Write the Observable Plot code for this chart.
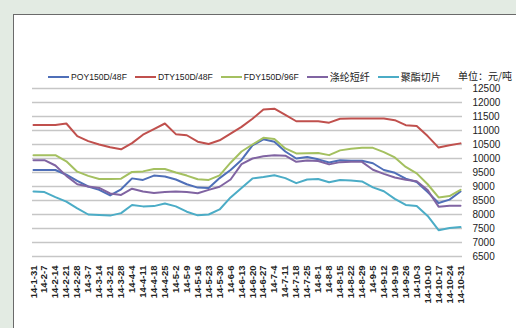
<!DOCTYPE html>
<html>
<head>
<meta charset="utf-8">
<script src="https://cdn.jsdelivr.net/npm/d3@7"></script>
<script src="https://cdn.jsdelivr.net/npm/@observablehq/plot@0.6"></script>
<style>
  html, body { margin: 0; padding: 0; }
  body { width: 516px; height: 328px; background: #e3ebe3; position: relative; overflow: hidden;
         font-family: "Liberation Sans", "Noto Sans CJK SC", sans-serif; }
  #panel { position: absolute; left: 13px; top: 14px; right: -2px; bottom: -2px; background: #fff;
           border-left: 1.5px solid #6a6a6a; border-top: 1.5px solid #6a6a6a; }
  #chart { position: absolute; left: 0; top: 0; }
  #legend { position: absolute; left: 48px; top: 69px; display: flex; align-items: center;
            font-size: 8.6px; color: #222; white-space: nowrap; }
  .item { display: flex; align-items: center; margin-right: 8px; }
  .swatch { width: 21px; height: 2px; margin-right: 2px; }
  .cjk { font-family: "Noto Sans CJK SC", sans-serif; font-size: 10px; }
  #unit { position: absolute; left: 458px; top: 68px; font-family: "Noto Sans CJK SC", sans-serif;
          font-size: 10px; color: #222; white-space: nowrap; }
</style>
</head>
<body>
<div id="panel"></div>
<div id="chart"></div>
<div id="legend"></div>
<div id="unit">单位：元/吨</div>
<script>
// Weekly category labels (year-month-day)
const dates = [
  "14-1-31","14-2-7","14-2-14","14-2-21","14-2-28","14-3-7","14-3-14","14-3-21","14-3-28","14-4-4",
  "14-4-11","14-4-18","14-4-25","14-5-2","14-5-9","14-5-16","14-5-23","14-5-30","14-6-6","14-6-13",
  "14-6-20","14-6-27","14-7-4","14-7-11","14-7-18","14-7-25","14-8-1","14-8-8","14-8-15","14-8-22",
  "14-8-29","14-9-5","14-9-12","14-9-19","14-9-26","14-10-3","14-10-10","14-10-17","14-10-24","14-10-31"
];

// Prices, yuan per tonne
const poy = [9590,9590,9590,9420,9200,9000,8880,8680,8900,9290,
             9235,9390,9360,9250,9080,8960,8950,9300,9590,9950,
             10470,10685,10600,10250,10000,10050,9970,9860,9940,9920,
             9920,9830,9590,9490,9280,9160,8800,8410,8530,8820];
const dty = [11200,11200,11200,11250,10800,10620,10500,10400,10330,10550,
             10850,11050,11250,10870,10830,10600,10520,10650,10890,11130,
             11420,11750,11780,11560,11330,11330,11330,11280,11420,11430,
             11430,11430,11430,11370,11190,11160,10800,10390,10470,10540];
const fdy = [10120,10120,10120,9900,9530,9380,9270,9270,9280,9520,
             9540,9625,9625,9500,9390,9260,9235,9400,9850,10250,
             10500,10740,10700,10360,10180,10190,10200,10120,10290,10350,
             10380,10380,10230,10040,9700,9470,9080,8610,8660,8880];
const psf = [9940,9940,9750,9380,9080,9000,8950,8750,8700,8920,
             8820,8770,8800,8820,8800,8760,8880,8990,9250,9800,
             10000,10080,10120,10100,9880,9930,9910,9790,9870,9880,
             9880,9600,9450,9320,9240,9190,8870,8280,8310,8310];
const chip = [8820,8800,8620,8460,8220,8000,7980,7960,8050,8340,
              8290,8300,8390,8290,8100,7970,8000,8180,8610,8950,
              9290,9340,9400,9300,9120,9250,9270,9150,9230,9210,
              9180,8970,8830,8560,8340,8300,7950,7440,7520,7550];

const seriesNames = ["POY150D/48F", "DTY150D/48F", "FDY150D/96F", "涤纶短纤", "聚酯切片"];
const seriesValues = [poy, dty, fdy, psf, chip];
const seriesColors = ["#4f6fb8", "#c0504d", "#a4c060", "#8064a2", "#4bacc6"];

const yTicks = [6500,7000,7500,8000,8500,9000,9500,10000,10500,11000,11500,12000,12500];

const rows = seriesNames.flatMap((name, k) =>
  seriesValues[k].map((v, i) => ({date: dates[i], value: v, series: name})));

const chart = Plot.plot({
  width: 516,
  height: 328,
  marginLeft: 33,
  marginRight: 56,
  marginTop: 88,
  marginBottom: 72,
  style: {background: "transparent", fontFamily: "Liberation Sans, sans-serif", overflow: "visible"},
  x: {type: "point", domain: dates, padding: 0, label: null},
  y: {domain: [6500, 12500], label: null},
  color: {domain: seriesNames, range: seriesColors},
  marks: [
    Plot.ruleY(yTicks, {stroke: "#c6c6c6", strokeWidth: 1.3, insetLeft: -1, insetRight: -2}),
    Plot.axisY(yTicks, {anchor: "right", tickSize: 0, tickPadding: 12, fontSize: 10,
                        fill: "#222", label: null, tickFormat: d => String(d)}),
    Plot.axisX(dates, {anchor: "bottom", tickSize: 0, tickPadding: 9, tickRotate: -90,
                       fontSize: 9.5, fontWeight: "bold", fill: "#222", label: null}),
    Plot.lineY(rows, {x: "date", y: "value", stroke: "series", strokeWidth: 2})
  ]
});
document.getElementById("chart").appendChild(chart);

// Legend row
const legend = document.getElementById("legend");
seriesNames.forEach((name, k) => {
  const item = document.createElement("div");
  item.className = "item";
  const sw = document.createElement("span");
  sw.className = "swatch";
  sw.style.background = seriesColors[k];
  const label = document.createElement("span");
  label.textContent = name;
  if (/[\u4e00-\u9fff]/.test(name)) label.className = "cjk";
  item.appendChild(sw);
  item.appendChild(label);
  legend.appendChild(item);
});
</script>
</body>
</html>
